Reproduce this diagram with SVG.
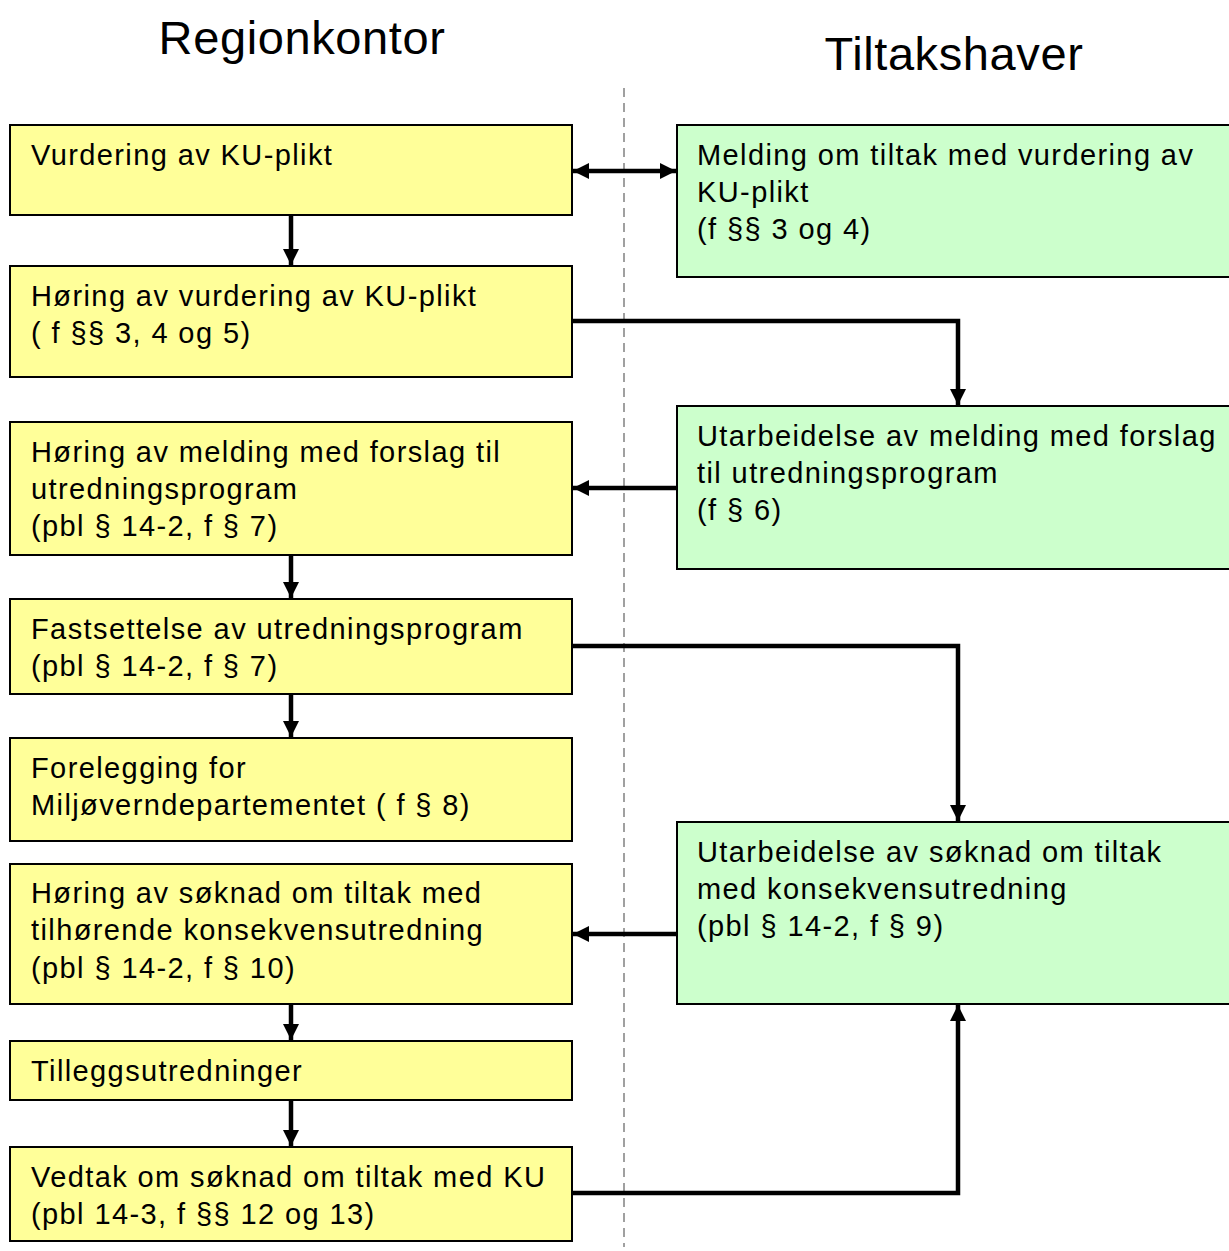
<svg xmlns="http://www.w3.org/2000/svg" width="1229" height="1251" viewBox="0 0 1229 1251">
<style>
text{font-family:"Liberation Sans",Arial,sans-serif;fill:#000}
.t{font-size:29px;letter-spacing:1.4px}
.h{font-size:47px;letter-spacing:0.6px}
.y{fill:#ffff99;stroke:#000;stroke-width:2}
.g{fill:#ccffcc;stroke:#000;stroke-width:2}
.c{fill:none;stroke:#000;stroke-width:4.5}
</style>
<defs>
<marker id="ah" viewBox="0 0 16 16" refX="16" refY="8" markerWidth="16" markerHeight="16" markerUnits="userSpaceOnUse" orient="auto-start-reverse">
<path d="M0,0 L16,8 L0,16 z" fill="#000"/>
</marker>
</defs>
<rect width="1229" height="1251" fill="#fff"/>
<text class="h" x="302" y="54" text-anchor="middle">Regionkontor</text>
<text class="h" x="954" y="70" text-anchor="middle">Tiltakshaver</text>
<line x1="624" y1="88" x2="624" y2="1247" stroke="#a0a0a0" stroke-width="2" stroke-dasharray="9,6"/>
<g id="n1"><rect class="y" x="10" y="125" width="562" height="90"/><text class="t" x="31" y="165">Vurdering av KU-plikt</text></g>
<g id="n2"><rect class="y" x="10" y="266" width="562" height="111"/><text class="t" x="31" y="306">Høring av vurdering av KU-plikt</text><text class="t" x="31" y="343">( f §§ 3, 4 og 5)</text></g>
<g id="n3"><rect class="y" x="10" y="422" width="562" height="133"/><text class="t" x="31" y="462">Høring av melding med forslag til</text><text class="t" x="31" y="499">utredningsprogram</text><text class="t" x="31" y="536">(pbl § 14-2, f § 7)</text></g>
<g id="n4"><rect class="y" x="10" y="599" width="562" height="95"/><text class="t" x="31" y="639">Fastsettelse av utredningsprogram</text><text class="t" x="31" y="676">(pbl § 14-2, f § 7)</text></g>
<g id="n5"><rect class="y" x="10" y="738" width="562" height="103"/><text class="t" x="31" y="778">Forelegging for</text><text class="t" x="31" y="815">Miljøverndepartementet ( f § 8)</text></g>
<g id="n6"><rect class="y" x="10" y="864" width="562" height="140"/><text class="t" x="31" y="903">Høring av søknad om tiltak med</text><text class="t" x="31" y="940">tilhørende konsekvensutredning</text><text class="t" x="31" y="978">(pbl § 14-2, f § 10)</text></g>
<g id="n7"><rect class="y" x="10" y="1041" width="562" height="59"/><text class="t" x="31" y="1081">Tilleggsutredninger</text></g>
<g id="n8"><rect class="y" x="10" y="1147" width="562" height="94"/><text class="t" x="31" y="1187">Vedtak om søknad om tiltak med KU</text><text class="t" x="31" y="1224">(pbl 14-3, f §§ 12 og 13)</text></g>
<g id="nA"><rect class="g" x="677" y="125" width="560" height="152"/><text class="t" x="697" y="165">Melding om tiltak med vurdering av</text><text class="t" x="697" y="202">KU-plikt</text><text class="t" x="697" y="239">(f §§ 3 og 4)</text></g>
<g id="nB"><rect class="g" x="677" y="406" width="560" height="163"/><text class="t" x="697" y="446">Utarbeidelse av melding med forslag</text><text class="t" x="697" y="483">til utredningsprogram</text><text class="t" x="697" y="520">(f § 6)</text></g>
<g id="nC"><rect class="g" x="677" y="822" width="560" height="182"/><text class="t" x="697" y="862">Utarbeidelse av søknad om tiltak</text><text class="t" x="697" y="899">med konsekvensutredning</text><text class="t" x="697" y="936">(pbl § 14-2, f § 9)</text></g>
<g id="connectors">
<line class="c" x1="291" y1="216" x2="291" y2="265" marker-end="url(#ah)"/>
<line class="c" x1="291" y1="556" x2="291" y2="598" marker-end="url(#ah)"/>
<line class="c" x1="291" y1="695" x2="291" y2="737" marker-end="url(#ah)"/>
<line class="c" x1="291" y1="1005" x2="291" y2="1040" marker-end="url(#ah)"/>
<line class="c" x1="291" y1="1101" x2="291" y2="1146" marker-end="url(#ah)"/>
<line class="c" x1="573" y1="171" x2="676" y2="171" marker-start="url(#ah)" marker-end="url(#ah)"/>
<polyline class="c" points="573,321 958,321 958,405" marker-end="url(#ah)"/>
<line class="c" x1="676" y1="488" x2="573" y2="488" marker-end="url(#ah)"/>
<polyline class="c" points="573,646 958,646 958,821" marker-end="url(#ah)"/>
<line class="c" x1="676" y1="934" x2="573" y2="934" marker-end="url(#ah)"/>
<polyline class="c" points="573,1193 958,1193 958,1005" marker-end="url(#ah)"/>
</g>
</svg>
